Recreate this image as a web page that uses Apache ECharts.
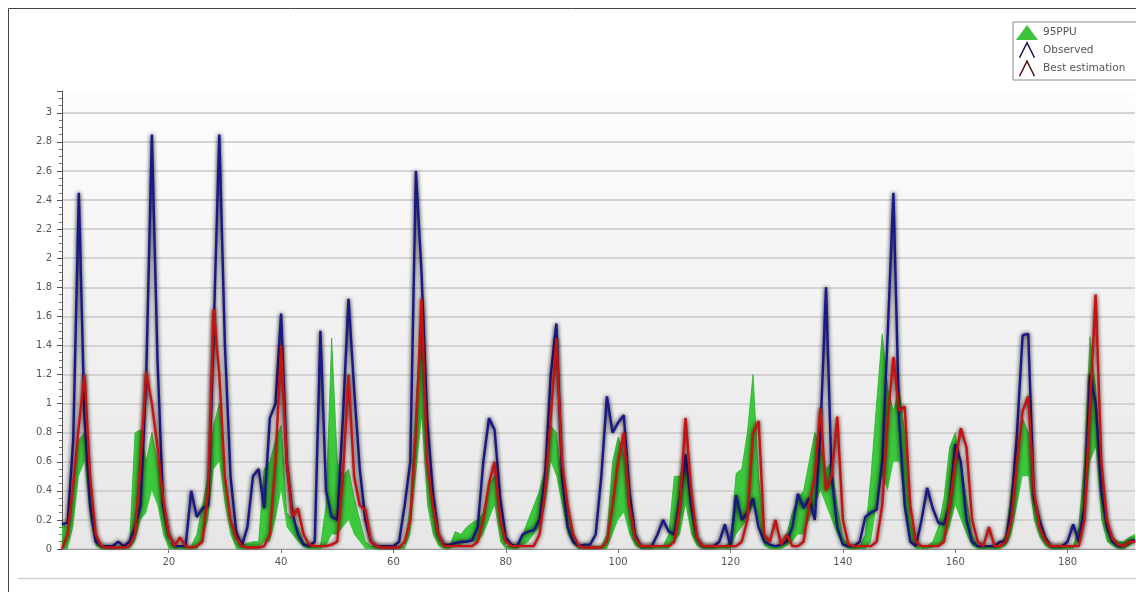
<!DOCTYPE html>
<html>
<head>
<meta charset="utf-8">
<script src="https://cdn.jsdelivr.net/npm/echarts@6.0.0/dist/echarts.min.js"></script>
<style>
html, body { margin: 0; padding: 0; background: #fff; }
#chart { width: 1136px; height: 592px; }
</style>
</head>
<body>
<div id="chart"></div>
<script>
// 时间步 1..192
var steps = [];
for (var i = 1; i <= 192; i++) steps.push(i);

// Observed（观测值）
var observed = [
    0.17,0.18,0.75,2.45,0.9,0.3,0.05,0.02,0.02,0.02,
    0.05,0.02,0.05,0.15,0.3,1.2,2.85,1.3,0.3,0.1,
    0.02,0.02,0.02,0.4,0.22,0.28,0.3,1.5,2.85,1.4,
    0.5,0.12,0.02,0.15,0.5,0.55,0.28,0.9,1.0,1.62,
    0.6,0.25,0.1,0.03,0.02,0.05,1.5,0.4,0.22,0.2,
    0.9,1.72,1.1,0.55,0.2,0.05,0.02,0.02,0.02,0.02,
    0.05,0.3,0.6,2.6,1.9,0.9,0.4,0.1,0.03,0.03,
    0.04,0.05,0.05,0.06,0.15,0.6,0.9,0.82,0.35,0.08,
    0.03,0.02,0.1,0.12,0.13,0.2,0.5,1.2,1.55,0.5,
    0.15,0.05,0.02,0.03,0.03,0.1,0.5,1.05,0.8,0.87,
    0.92,0.4,0.1,0.02,0.02,0.02,0.1,0.2,0.12,0.1,
    0.35,0.65,0.3,0.08,0.02,0.02,0.02,0.05,0.17,0.02,
    0.37,0.2,0.25,0.35,0.15,0.05,0.03,0.02,0.03,0.05,
    0.15,0.38,0.28,0.35,0.2,0.8,1.8,0.5,0.15,0.03,
    0.02,0.02,0.05,0.22,0.25,0.27,0.6,1.5,2.45,0.9,
    0.3,0.05,0.02,0.2,0.42,0.28,0.18,0.17,0.3,0.72,
    0.6,0.2,0.05,0.02,0.02,0.02,0.02,0.05,0.05,0.3,
    0.8,1.47,1.48,0.35,0.2,0.08,0.02,0.02,0.02,0.05,
    0.17,0.05,0.3,1.2,1.0,0.4,0.15,0.05,0.02,0.02,
    0.05,0.06
];

// Best estimation（最佳估计）
var bestEst = [
    0,0.1,0.45,0.85,1.2,0.5,0.1,0.02,0.01,0.01,
    0.01,0.01,0.02,0.1,0.6,1.22,1.0,0.7,0.35,0.1,
    0.02,0.08,0.02,0.01,0.02,0.05,0.4,1.65,1.2,0.5,
    0.2,0.08,0.02,0.01,0.01,0.01,0.02,0.1,0.6,1.4,
    0.6,0.22,0.28,0.1,0.03,0.02,0.02,0.02,0.03,0.05,
    0.5,1.2,0.5,0.3,0.27,0.05,0.02,0.01,0.01,0.01,
    0.01,0.05,0.2,0.8,1.72,0.6,0.3,0.1,0.02,0.02,
    0.02,0.02,0.02,0.02,0.05,0.2,0.45,0.6,0.2,0.05,
    0.02,0.02,0.02,0.02,0.02,0.1,0.4,0.9,1.45,0.6,
    0.3,0.1,0.02,0.01,0.01,0.01,0.01,0.05,0.3,0.6,
    0.8,0.3,0.08,0.02,0.02,0.02,0.02,0.02,0.02,0.05,
    0.3,0.9,0.4,0.08,0.02,0.02,0.02,0.02,0.02,0.02,
    0.02,0.05,0.2,0.8,0.88,0.1,0.05,0.2,0.03,0.1,
    0.02,0.02,0.05,0.3,0.5,0.97,0.4,0.5,0.91,0.2,
    0.03,0.02,0.02,0.02,0.02,0.05,0.3,0.9,1.32,0.95,
    0.98,0.3,0.05,0.02,0.02,0.02,0.02,0.05,0.3,0.6,
    0.83,0.7,0.2,0.05,0.02,0.15,0.02,0.02,0.05,0.2,
    0.6,0.95,1.05,0.4,0.15,0.06,0.02,0.02,0.02,0.02,
    0.02,0.02,0.2,1.0,1.75,0.6,0.2,0.07,0.03,0.02,
    0.05,0.05
];

// 95PPU 下限
var ppuLow = [
    0,0,0.15,0.5,0.6,0.2,0.02,0,0,0,
    0,0,0,0.05,0.2,0.25,0.4,0.3,0.1,0,
    0,0,0,0,0,0.05,0.2,0.55,0.6,0.3,
    0.1,0,0,0,0,0.01,0.05,0.05,0.2,0.4,
    0.15,0.1,0.05,0.01,0,0,0,0.02,0.1,0.1,
    0.15,0.2,0.1,0.05,0,0,0,0,0,0,
    0,0,0.1,0.5,0.9,0.3,0.1,0.02,0,0,
    0.02,0.03,0.05,0.05,0.05,0.1,0.2,0.3,0.05,0,
    0,0,0.02,0.05,0.1,0.15,0.3,0.6,0.5,0.3,
    0.1,0.03,0,0,0,0,0,0,0.1,0.2,
    0.25,0.1,0.02,0,0,0,0,0,0,0.05,
    0.1,0.3,0.1,0.02,0,0,0,0,0,0,
    0.1,0.15,0.2,0.3,0.2,0.02,0,0,0,0.02,
    0.05,0.1,0.1,0.2,0.3,0.4,0.3,0.2,0.1,0.02,
    0,0,0,0,0.05,0.3,0.5,0.4,0.6,0.6,
    0.3,0.05,0,0,0,0.01,0.02,0.05,0.15,0.3,
    0.2,0.1,0.02,0,0,0,0,0,0.02,0.1,
    0.3,0.5,0.5,0.2,0.08,0.02,0,0,0,0,
    0,0.05,0.2,0.6,0.7,0.2,0.05,0.02,0,0,
    0.02,0.05
];

// 95PPU 上限
var ppuHigh = [
    0.17,0.15,0.35,0.75,0.8,0.4,0.08,0.02,0.02,0.02,
    0.02,0.02,0.02,0.8,0.82,0.6,0.8,0.6,0.3,0.05,
    0.02,0.02,0.02,0.02,0.1,0.3,0.5,0.85,1.0,0.5,
    0.2,0.05,0.02,0.04,0.05,0.05,0.55,0.6,0.75,0.85,
    0.25,0.2,0.15,0.05,0.02,0.02,0.02,0.3,1.45,0.6,
    0.5,0.55,0.35,0.2,0.05,0.02,0.02,0.02,0.02,0.02,
    0.02,0.02,0.3,1.0,1.6,0.6,0.3,0.08,0.02,0.02,
    0.12,0.1,0.15,0.18,0.2,0.25,0.45,0.5,0.2,0.02,
    0.02,0.02,0.1,0.2,0.3,0.4,0.55,0.85,0.8,0.45,
    0.25,0.1,0.02,0.02,0.02,0.02,0.02,0.1,0.6,0.77,
    0.65,0.35,0.1,0.02,0.02,0.02,0.02,0.02,0.1,0.5,
    0.5,0.65,0.3,0.08,0.02,0.02,0.02,0.02,0.02,0.05,
    0.52,0.55,0.8,1.2,0.5,0.1,0.02,0.02,0.02,0.1,
    0.25,0.35,0.4,0.6,0.8,0.7,0.55,0.6,0.3,0.08,
    0.02,0.02,0.02,0.1,0.5,1.0,1.48,1.1,0.95,1.1,
    0.8,0.2,0.05,0.02,0.02,0.05,0.15,0.35,0.7,0.8,
    0.6,0.35,0.1,0.02,0.02,0.02,0.02,0.02,0.1,0.4,
    0.7,0.9,0.8,0.35,0.15,0.05,0.02,0.02,0.02,0.02,
    0.02,0.15,0.6,1.46,1.1,0.5,0.2,0.08,0.05,0.05,
    0.08,0.1
];

// 带宽 = 上限 - 下限（堆叠用）
var ppuWidth = ppuHigh.map(function (v, k) { return +(v - ppuLow[k]).toFixed(3); });

var myChart = echarts.init(document.getElementById('chart'));
var option = {
    backgroundColor: '#fff',
    animation: false,
    graphic: [
        { type: 'line', shape: { x1: 8.5, y1: 8.5, x2: 1136, y2: 8.5 }, style: { stroke: '#444', lineWidth: 1 } },
        { type: 'line', shape: { x1: 8.5, y1: 8.5, x2: 8.5, y2: 592 }, style: { stroke: '#444', lineWidth: 1 } },
        { type: 'line', shape: { x1: 18, y1: 578.5, x2: 1136, y2: 578.5 }, style: { stroke: '#d0d0d0', lineWidth: 1.5 } }
    ],
    legend: {
        orient: 'vertical',
        left: 1013,
        top: 22,
        padding: [3, 40, 3, 3],
        itemGap: 2,
        itemWidth: 22,
        itemHeight: 15,
        backgroundColor: '#fff',
        borderColor: '#8a8a8a',
        borderWidth: 1,
        borderRadius: 0,
        textStyle: { fontFamily: 'DejaVu Sans', fontSize: 10.5, color: '#555' },
        data: [
            { name: '95PPU', icon: 'triangle', itemStyle: { color: '#3cc43c' } },
            { name: 'Observed', icon: 'path://M0,20 L10,0 L20,20',
              itemStyle: { color: 'transparent', borderColor: '#14145a', borderWidth: 1.5 } },
            { name: 'Best estimation', icon: 'path://M0,20 L10,0 L20,20',
              itemStyle: { color: 'transparent', borderColor: '#4a1010', borderWidth: 1.5 } }
        ]
    },
    grid: {
        left: 62,
        right: 1,
        top: 91,
        bottom: 43,
        show: true,
        borderWidth: 0,
        backgroundColor: new echarts.graphic.LinearGradient(0, 0, 0, 1, [
            { offset: 0, color: '#fdfdfd' },
            { offset: 1, color: '#e6e6e6' }
        ])
    },
    xAxis: {
        type: 'category',
        data: steps,
        boundaryGap: false,
        axisLine: { show: true, lineStyle: { color: '#9a9a9a', width: 1 } },
        axisTick: {
            show: true,
            length: 4,
            interval: function (idx, val) { return val % 20 === 0; },
            lineStyle: { color: '#777' }
        },
        axisLabel: {
            interval: function (idx, val) { return val % 20 === 0; },
            fontFamily: 'DejaVu Sans',
            fontSize: 10,
            color: '#555',
            margin: 8
        },
        splitLine: { show: false }
    },
    yAxis: {
        type: 'value',
        min: 0,
        max: 3.15,
        interval: 0.2,
        axisLine: { show: true, lineStyle: { color: '#555', width: 1 } },
        axisTick: { show: true, length: 5, lineStyle: { color: '#555' } },
        minorTick: { show: true, splitNumber: 4, length: 3, lineStyle: { color: '#777' } },
        axisLabel: {
            showMaxLabel: false,
            fontFamily: 'DejaVu Sans',
            fontSize: 10,
            color: '#555',
            margin: 10
        },
        splitLine: {
            show: true,
            showMaxLine: false,
            lineStyle: { color: '#c8c8c8', width: 1.5 }
        }
    },
    series: [
        {
            name: 'ppuLow',
            type: 'line',
            stack: 'ppu',
            data: ppuLow,
            symbol: 'none',
            lineStyle: { width: 0, opacity: 0 },
            areaStyle: { opacity: 0 },
            silent: true
        },
        {
            name: '95PPU',
            type: 'line',
            stack: 'ppu',
            data: ppuWidth,
            symbol: 'none',
            itemStyle: { color: '#3cc43c' },
            lineStyle: { width: 0.8, color: '#2fb02f' },
            areaStyle: { color: '#3cc83c', opacity: 1 }
        },
        {
            name: 'Observed',
            type: 'line',
            data: observed,
            symbol: 'none',
            itemStyle: { color: '#1a1a8a' },
            lineStyle: {
                width: 2.4,
                color: '#181888',
                shadowColor: 'rgba(0,0,0,0.95)',
                shadowBlur: 4
            },
            z: 3
        },
        {
            name: 'Best estimation',
            type: 'line',
            data: bestEst,
            symbol: 'none',
            itemStyle: { color: '#b01010' },
            lineStyle: {
                width: 2.4,
                color: '#c81212',
                shadowColor: 'rgba(40,0,0,0.95)',
                shadowBlur: 4
            },
            z: 4
        }
    ]
};
myChart.setOption(option);
</script>
</body>
</html>
